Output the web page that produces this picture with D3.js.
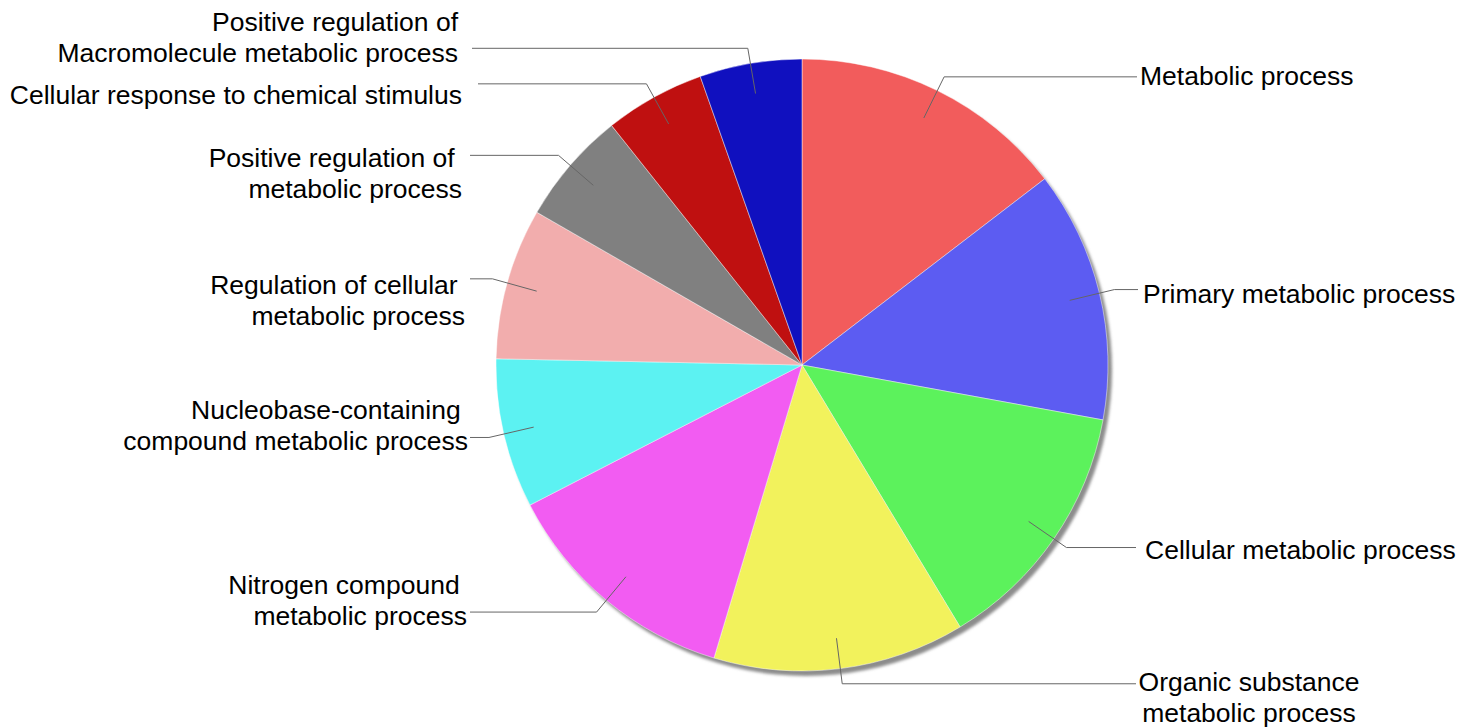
<!DOCTYPE html>
<html><head>
<meta charset="utf-8">
<script src="https://cdn.jsdelivr.net/npm/d3@7"></script>
<style>
  body { margin:0; background:#fff; }
  text { font-family: "Liberation Sans", Arial, sans-serif; font-size:26.5px; fill:#000; white-space:pre; }
</style>
</head>
<body>
<svg width="1477" height="728"></svg>
<script>
// data, clockwise from 12 o'clock
var categories = ["Metabolic process", "Primary metabolic process", "Cellular metabolic process",
  "Organic substance metabolic process", "Nitrogen compound metabolic process",
  "Nucleobase-containing compound metabolic process", "Regulation of cellular metabolic process",
  "Positive regulation of metabolic process", "Cellular response to chemical stimulus",
  "Positive regulation of Macromolecule metabolic process"];
var values = [14.6, 13.3, 13.5, 13.3, 12.8, 7.9, 8.0, 6.0, 5.3, 5.4];
var labelLines = [
  ["Metabolic process"],
  ["Primary metabolic process"],
  ["Cellular metabolic process"],
  ["Organic substance", "metabolic process"],
  ["Nitrogen compound ", "metabolic process"],
  ["Nucleobase-containing ", "compound metabolic process"],
  ["Regulation of cellular ", "metabolic process"],
  ["Positive regulation of ", "metabolic process"],
  ["Cellular response to chemical stimulus"],
  ["Positive regulation of", "Macromolecule metabolic process"]
];
var colors = ["#f25c5c", "#5c5cf2", "#5cf25c", "#f2f25c", "#f25cf2",
              "#5cf2f2", "#f2adad", "#808080", "#bf1010", "#1010bf"];

// label placement (text anchor x, first line centre y, leader end x)
var labelPos = [
  {x:1140, y:76,  anchor:"start",  lx:1137},
  {x:1143, y:294, anchor:"start",  lx:1138},
  {x:1145, y:550, anchor:"start",  lx:1136},
  {x:1249, y:682, anchor:"middle", lx:1136},
  {x:467,  y:585, anchor:"end",    lx:470},
  {x:468,  y:410, anchor:"end",    lx:470},
  {x:465,  y:285, anchor:"end",    lx:470},
  {x:462,  y:158, anchor:"end",    lx:470},
  {x:462,  y:95,  anchor:"end",    lx:478},
  {x:458,  y:22,  anchor:"end",    lx:472}
];

var svg = d3.select("svg");
var cx = 802, cy = 365, R = 306;

var defs = svg.append("defs");
defs.append("filter").attr("id", "blur")
  .append("feGaussianBlur").attr("stdDeviation", 1.5);

var g = svg.append("g").attr("transform", "translate(" + cx + "," + cy + ")");

// drop shadow
g.append("circle")
  .attr("cx", 4).attr("cy", 5).attr("r", R)
  .attr("fill", "#8c8c8c")
  .attr("filter", "url(#blur)");

var pie = d3.pie().sort(null).value(function(d) { return d; });
var arcs = pie(values);
var arc = d3.arc().innerRadius(0).outerRadius(R);

g.selectAll("path.slice")
  .data(arcs)
  .enter()
  .append("path")
  .attr("class", "slice")
  .attr("d", arc)
  .attr("fill", function(d, i) { return colors[i]; })
  .attr("stroke", "rgba(255,255,255,0.45)")
  .attr("stroke-width", 1);

// leader lines
function pt(a, r) { return [Math.sin(a) * r, -Math.cos(a) * r]; }

g.selectAll("polyline.leader")
  .data(arcs)
  .enter()
  .append("polyline")
  .attr("class", "leader")
  .attr("fill", "none")
  .attr("stroke", "#666")
  .attr("stroke-width", 1)
  .attr("points", function(d, i) {
    var mid = (d.startAngle + d.endAngle) / 2;
    var p1 = pt(mid, R * 0.9), p2 = pt(mid, R * 1.05);
    var p3 = [labelPos[i].lx - cx, p2[1]];
    return [p1, p2, p3].map(function(p) { return p.join(","); }).join(" ");
  });

// labels
svg.selectAll("text.lbl")
  .data(labelLines)
  .enter()
  .append("text")
  .attr("class", "lbl")
  .attr("text-anchor", function(d, i) { return labelPos[i].anchor; })
  .each(function(d, i) {
    var t = d3.select(this);
    d.forEach(function(line, j) {
      t.append("tspan")
        .attr("x", labelPos[i].x)
        .attr("y", labelPos[i].y + j * 31)
        .attr("dy", "0.35em")
        .text(line);
    });
  });
</script>
</body></html>
